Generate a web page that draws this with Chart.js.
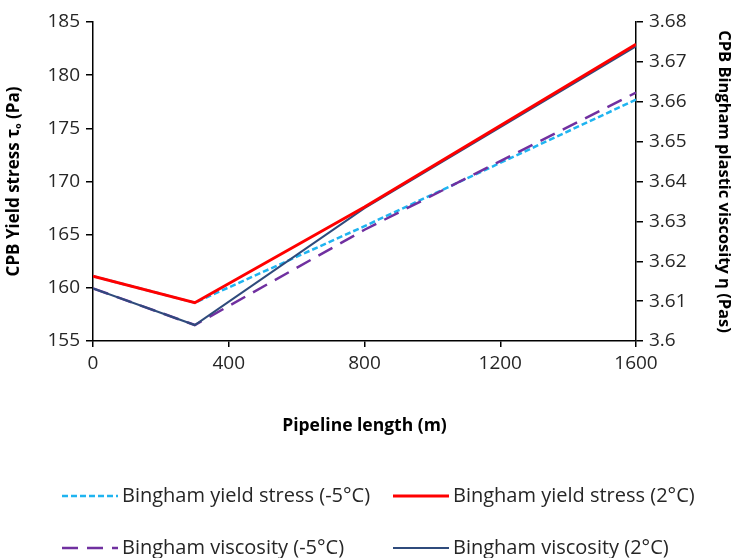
<!DOCTYPE html>
<html>
<head>
<meta charset="utf-8">
<script src="https://cdn.jsdelivr.net/npm/chart.js@4.4.1/dist/chart.umd.min.js"></script>
<style>
  html, body { margin: 0; padding: 0; background: #fff; }
  #wrap { width: 736px; height: 558px; }
</style>
</head>
<body>
<div id="wrap"><canvas id="chart"></canvas></div>
<script>
// pipeline length (m)
const lengths = [0, 300, 800, 1600];
// yield stress (Pa), left axis
const yieldMinus5 = [161.1, 158.6, 165.8, 177.7];
const yield2 = [161.1, 158.6, 167.6, 182.9];
// plastic viscosity (Pa s), right axis
const viscMinus5 = [3.6132, 3.6040, 3.6279, 3.6623];
const visc2 = [3.6132, 3.6040, 3.6333, 3.6739];

const xTicks = [0, 400, 800, 1200, 1600];

const toPoints = (vals) => vals.map((v, i) => ({ x: lengths[i], y: v }));

const fontFamily = '"Open Sans", Lato, sans-serif';
const axisColor = '#000';
const textColor = '#262626';

// legend drawn Excel-style: two aligned columns
const legendSlots = {
    'Bingham yield stress (-5°C)': { x: 62, y: 496 },
    'Bingham yield stress (2°C)': { x: 393, y: 496 },
    'Bingham viscosity (-5°C)': { x: 62, y: 548 },
    'Bingham viscosity (2°C)': { x: 393, y: 548 }
};

const legendPlugin = {
    id: 'gridLegend',
    afterDraw(chart) {
        const ctx = chart.ctx;
        ctx.save();
        chart.data.datasets.forEach(ds => {
            const slot = legendSlots[ds.label];
            if (!slot) return;
            ctx.beginPath();
            ctx.strokeStyle = ds.borderColor;
            ctx.lineWidth = ds.borderWidth;
            ctx.setLineDash(ds.borderDash || []);
            ctx.moveTo(slot.x, slot.y);
            ctx.lineTo(slot.x + 56, slot.y);
            ctx.stroke();
            ctx.setLineDash([]);
            ctx.fillStyle = textColor;
            ctx.font = '20px ' + fontFamily;
            ctx.textBaseline = 'middle';
            ctx.fillText(ds.label, slot.x + 60, slot.y);
        });
        ctx.restore();
    }
};

const ctx = document.getElementById('chart').getContext('2d');
new Chart(ctx, {
    type: 'line',
    data: {
        datasets: [
            {
                label: 'Bingham yield stress (2°C)',
                data: toPoints(yield2),
                borderColor: '#FF0000',
                borderWidth: 3,
                yAxisID: 'y'
            },
            {
                label: 'Bingham viscosity (2°C)',
                data: toPoints(visc2),
                borderColor: '#2F4B7C',
                borderWidth: 2,
                yAxisID: 'y1'
            },
            {
                label: 'Bingham viscosity (-5°C)',
                data: toPoints(viscMinus5),
                borderColor: '#7030A0',
                borderWidth: 2.5,
                borderDash: [16, 9],
                yAxisID: 'y1'
            },
            {
                label: 'Bingham yield stress (-5°C)',
                data: toPoints(yieldMinus5),
                borderColor: '#1FB4F0',
                borderWidth: 2.5,
                borderDash: [6, 3],
                yAxisID: 'y'
            }
        ]
    },
    options: {
        responsive: true,
        maintainAspectRatio: false,
        animation: false,
        elements: {
            point: { radius: 0, hoverRadius: 0 },
            line: { tension: 0 }
        },
        layout: {
            padding: { left: 0, right: 0, top: 22, bottom: 117 }
        },
        plugins: {
            legend: { display: false },
            tooltip: { enabled: false }
        },
        scales: {
            x: {
                type: 'linear',
                min: 0,
                max: 1600,
                afterBuildTicks: (scale) => { scale.ticks = xTicks.map(v => ({ value: v })); },
                afterFit: (scale) => { scale.height = 100; },
                border: { color: axisColor, width: 1.5 },
                grid: { drawOnChartArea: false, color: axisColor, tickLength: 6, lineWidth: 1.5 },
                ticks: {
                    color: textColor,
                    font: { family: fontFamily, size: 19 },
                    padding: 5,
                    maxRotation: 0,
                    callback: (v) => String(v)
                },
                title: {
                    display: true,
                    text: 'Pipeline length (m)',
                    color: '#000',
                    font: { family: fontFamily, size: 17.5, weight: 'bold' },
                    padding: { top: 25 }
                }
            },
            y: {
                position: 'left',
                min: 155,
                max: 185,
                afterFit: (scale) => { scale.width = 93; },
                border: { color: axisColor, width: 1.5 },
                grid: { drawOnChartArea: false, color: axisColor, tickLength: 7, lineWidth: 1.5 },
                ticks: { stepSize: 5, color: textColor, font: { family: fontFamily, size: 19 }, padding: 6 },
                title: {
                    display: true,
                    text: 'CPB Yield stress τₒ (Pa)',
                    color: '#000',
                    font: { family: fontFamily, size: 17, weight: 'bold' },
                    padding: { bottom: 2 }
                }
            },
            y1: {
                position: 'right',
                min: 3.6,
                max: 3.68,
                afterFit: (scale) => { scale.width = 100; },
                border: { color: axisColor, width: 1.5 },
                grid: { drawOnChartArea: false, color: axisColor, tickLength: 7, lineWidth: 1.5 },
                ticks: {
                    stepSize: 0.01,
                    color: textColor,
                    font: { family: fontFamily, size: 19 },
                    padding: 6,
                    callback: (v) => String(Number(v.toFixed(2)))
                },
                title: {
                    display: true,
                    text: 'CPB Bingham plastic viscosity η (Pas)',
                    color: '#000',
                    font: { family: fontFamily, size: 16.5, weight: 'bold' },
                    padding: { top: 2 }
                }
            }
        }
    },
    plugins: [legendPlugin]
});
</script>
</body>
</html>
